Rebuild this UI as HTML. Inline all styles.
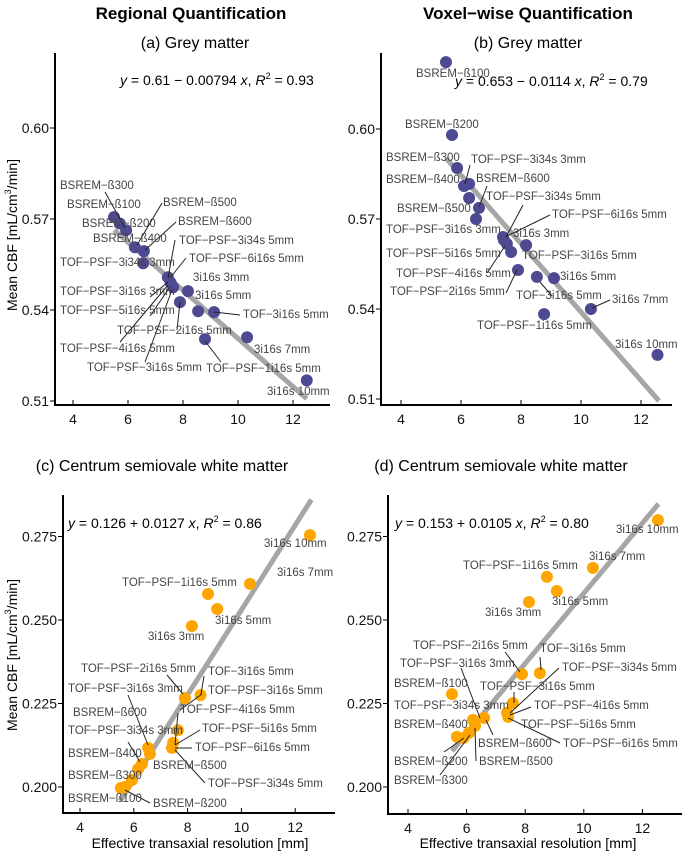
<!DOCTYPE html>
<html><head><meta charset="utf-8"><style>
html,body{margin:0;padding:0;background:#fff;}
svg{display:block;font-family:"Liberation Sans",Arial,sans-serif;}
.lbl{font-size:11.5px;fill:#444;}
.tk{font-size:14px;fill:#111;}
.ld{stroke:#222;stroke-width:1;}
</style></head><body>
<svg id="chart" width="685" height="851" viewBox="0 0 685 851" xmlns="http://www.w3.org/2000/svg">
<text x="191" y="19" text-anchor="middle" font-size="17" font-weight="bold">Regional Quantification</text>
<text x="528" y="19" text-anchor="middle" font-size="17" font-weight="bold">Voxel−wise Quantification</text>
<text x="195" y="48" text-anchor="middle" font-size="16">(a) Grey matter</text>
<text x="528" y="48" text-anchor="middle" font-size="16">(b) Grey matter</text>
<text x="162" y="471" text-anchor="middle" font-size="16">(c) Centrum semiovale white matter</text>
<text x="501" y="471" text-anchor="middle" font-size="16">(d) Centrum semiovale white matter</text>
<text transform="translate(17,235) rotate(-90)" text-anchor="middle" font-size="14">Mean CBF [mL/cm<tspan font-size="9" dy="-6">3</tspan><tspan dy="6">/min]</tspan></text>
<text transform="translate(17,655) rotate(-90)" text-anchor="middle" font-size="14">Mean CBF [mL/cm<tspan font-size="9" dy="-6">3</tspan><tspan dy="6">/min]</tspan></text>
<text x="200" y="848" text-anchor="middle" font-size="14">Effective transaxial resolution [mm]</text>
<text x="528" y="848" text-anchor="middle" font-size="14">Effective transaxial resolution [mm]</text>
<text x="120" y="85" font-size="14"><tspan font-style="italic">y</tspan> = 0.61 − 0.00794 <tspan font-style="italic">x</tspan>, <tspan font-style="italic">R</tspan><tspan font-size="9" dy="-6">2</tspan><tspan dy="6"> = 0.93</tspan></text>
<text x="455" y="86" font-size="14"><tspan font-style="italic">y</tspan> = 0.653 − 0.0114 <tspan font-style="italic">x</tspan>, <tspan font-style="italic">R</tspan><tspan font-size="9" dy="-6">2</tspan><tspan dy="6"> = 0.79</tspan></text>
<text x="68" y="528" font-size="14"><tspan font-style="italic">y</tspan> = 0.126 + 0.0127 <tspan font-style="italic">x</tspan>, <tspan font-style="italic">R</tspan><tspan font-size="9" dy="-6">2</tspan><tspan dy="6"> = 0.86</tspan></text>
<text x="395" y="528" font-size="14"><tspan font-style="italic">y</tspan> = 0.153 + 0.0105 <tspan font-style="italic">x</tspan>, <tspan font-style="italic">R</tspan><tspan font-size="9" dy="-6">2</tspan><tspan dy="6"> = 0.80</tspan></text>
</svg>
<script>
// ---- data ----
const xTicks = [4, 6, 8, 10, 12];
const yTicksTop = [0.51, 0.54, 0.57, 0.60];
const yTicksBottom = [0.200, 0.225, 0.250, 0.275];
const aX = [5.49, 5.70, 5.93, 6.25, 6.58, 6.55, 7.45, 7.55, 7.64, 8.18, 7.89, 8.55, 9.13, 10.33, 8.80, 12.50];
const aY = [0.5706, 0.5685, 0.5663, 0.5607, 0.5594, 0.5554, 0.5508, 0.5490, 0.5475, 0.5462, 0.5426, 0.5396, 0.5393, 0.5310, 0.5304, 0.5168];
const bX = [5.50, 5.70, 5.87, 6.10, 6.27, 6.27, 6.60, 6.50, 7.40, 7.43, 7.53, 7.67, 8.17, 7.90, 8.53, 9.10, 10.33, 8.77, 12.55];
const bY = [0.6223, 0.598, 0.587, 0.581, 0.5817, 0.577, 0.5737, 0.570, 0.564, 0.563, 0.5617, 0.559, 0.5613, 0.553, 0.5507, 0.5503, 0.540, 0.5383, 0.5247];
const cX = [12.55, 10.32, 8.76, 9.10, 8.16, 7.90, 8.48, 7.64, 7.46, 7.42, 6.53, 6.60, 6.30, 6.16, 5.93, 5.67, 5.52];
const cY = [0.2754, 0.2608, 0.2578, 0.2533, 0.2482, 0.2266, 0.2275, 0.2170, 0.2132, 0.2117, 0.2117, 0.2099, 0.2069, 0.2054, 0.2021, 0.2000, 0.1997];
const dX = [12.53, 10.31, 8.74, 9.08, 8.13, 7.89, 8.50, 5.50, 7.58, 7.38, 7.42, 6.60, 6.22, 6.29, 6.08, 5.90, 5.67];
const dY = [0.2799, 0.2656, 0.2629, 0.2587, 0.2554, 0.2338, 0.2341, 0.2278, 0.2251, 0.2222, 0.2210, 0.2207, 0.2201, 0.2183, 0.2162, 0.2147, 0.2150];
const fitIntercept = [0.61, 0.653, 0.126, 0.153];
const fitSlope = [-0.00794, -0.0114, 0.0127, 0.0105];
const fitXStart = [5.5, 5.5, 5.5, 5.5];
const fitXEnd = [12.5, 12.6, 12.6, 12.55];

const NS = "http://www.w3.org/2000/svg";
const svg = document.getElementById('chart');
function mk(tag, attrs, parent) {
  const e = document.createElementNS(NS, tag);
  for (const k in attrs) e.setAttribute(k, attrs[k]);
  (parent || svg).appendChild(e);
  return e;
}
const panels = [
  {ax:55, top:53, bottom:405, right:330, x4:73, xs:27.5, yRef:0.60, yRefPx:128, ys:3033, yt:yTicksTop, fmt:2, xs_:aX, ys_:aY, col:"#4d4a91"},
  {ax:381, top:53, bottom:405, right:672, x4:401, xs:30, yRef:0.60, yRefPx:129, ys:3000, yt:yTicksTop, fmt:2, xs_:bX, ys_:bY, col:"#4d4a91"},
  {ax:63, top:495, bottom:813, right:335, x4:80, xs:26.9, yRef:0.200, yRefPx:787, ys:3340, yt:yTicksBottom, fmt:3, xs_:cX, ys_:cY, col:"#ffa500"},
  {ax:388, top:495, bottom:814, right:682, x4:408, xs:29.3, yRef:0.200, yRefPx:787, ys:3340, yt:yTicksBottom, fmt:3, xs_:dX, ys_:dY, col:"#ffa500"}
];
const names = ['a','b','c','d'];
panels.forEach((p, i) => {
  const X = v => p.x4 + (v - 4) * p.xs;
  const Y = v => p.yRefPx - (v - p.yRef) * p.ys;
  const g = mk('g', {});
  
  
  const ya = mk('line', {x1:p.ax, y1:p.top, x2:p.ax, y2:p.bottom, stroke:'#000', 'stroke-width':2}, g);
  
  
  const xa = mk('line', {x1:p.ax-1, y1:p.bottom, x2:p.right, y2:p.bottom, stroke:'#000', 'stroke-width':2}, g);
  
  
  xTicks.forEach(t => {
    mk('line', {x1:X(t), y1:p.bottom, x2:X(t), y2:p.bottom-5, stroke:'#000', 'stroke-width':1}, g);
    const tx = mk('text', {x:X(t), y:p.bottom+19, 'text-anchor':'middle', class:'tk'}, g);
    tx.textContent = t;
    
    
  });
  p.yt.forEach(t => {
    mk('line', {x1:p.ax-5, y1:Y(t), x2:p.ax, y2:Y(t), stroke:'#000', 'stroke-width':1}, g);
    const tx = mk('text', {x:p.ax-6, y:Y(t)+5, 'text-anchor':'end', class:'tk'}, g);
    tx.textContent = t.toFixed(p.fmt);
    
    
  });
  const fl = mk('line', {x1:X(fitXStart[i]), y1:Y(fitIntercept[i]+fitSlope[i]*fitXStart[i]), x2:X(fitXEnd[i]), y2:Y(fitIntercept[i]+fitSlope[i]*fitXEnd[i]), stroke:'#a6a6a6', 'stroke-width':5}, g);
  
  
  p.xs_.forEach((v, k) => {
    const c = mk('circle', {cx:X(v), cy:Y(p.ys_[k]), r:6, fill:p.col}, g);
    
    
  });
});

// ---- point labels (annotation positions) ----
const labelsText = [
 ["BSREM−ß300",60,189],["BSREM−ß100",67,208],["BSREM−ß200",82,227],["BSREM−ß400",93,242],["BSREM−ß500",163,206],["BSREM−ß600",178,225],
 ["TOF−PSF−3i34s 5mm",179,244],["TOF−PSF−6i16s 5mm",189,262],["TOF−PSF−3i34s 3mm",60,266],["3i16s 3mm",193,281],["TOF−PSF−3i16s 3mm",60,295],
 ["3i16s 5mm",195,299],["TOF−PSF−5i16s 5mm",60,314],["TOF−3i16s 5mm",243,318],["TOF−PSF−2i16s 5mm",117,334],["3i16s 7mm",254,353],
 ["TOF−PSF−4i16s 5mm",60,352],["TOF−PSF−3i16s 5mm",87,371],["TOF−PSF−1i16s 5mm",206,372],["3i16s 10mm",267,395],
 ["BSREM−ß100",416,77],["BSREM−ß200",405,128],["BSREM−ß300",386,161],["TOF−PSF−3i34s 3mm",471,163],["BSREM−ß400",386,183],["BSREM−ß600",476,182],
 ["TOF−PSF−3i34s 5mm",486,200],["BSREM−ß500",397,212],["TOF−PSF−6i16s 5mm",552,218],["TOF−PSF−3i16s 3mm",386,233],["3i16s 3mm",513,237],
 ["TOF−PSF−5i16s 5mm",386,257],["TOF−PSF−3i16s 5mm",522,259],["TOF−PSF−4i16s 5mm",396,277],["3i16s 5mm",560,280],["TOF−PSF−2i16s 5mm",390,295],
 ["TOF−3i16s 5mm",516,299],["3i16s 7mm",612,303],["TOF−PSF−1i16s 5mm",477,329],["3i16s 10mm",615,348],
 ["3i16s 10mm",264,547],["3i16s 7mm",277,576],["TOF−PSF−1i16s 5mm",122,586],["3i16s 5mm",215,624],["3i16s 3mm",148,640],["TOF−PSF−2i16s 5mm",81,672],
 ["TOF−3i16s 5mm",208,675],["TOF−PSF−3i16s 3mm",68,692],["TOF−PSF−3i16s 5mm",208,694],["BSREM−ß600",73,716],["TOF−PSF−4i16s 5mm",180,713],
 ["TOF−PSF−3i34s 3mm",68,734],["TOF−PSF−5i16s 5mm",202,732],["BSREM−ß400",68,757],["TOF−PSF−6i16s 5mm",195,751],["BSREM−ß500",153,769],
 ["BSREM−ß300",68,779],["TOF−PSF−3i34s 5mm",208,787],["BSREM−ß100",68,802],["BSREM−ß200",153,807],
 ["3i16s 10mm",616,533],["3i16s 7mm",589,560],["TOF−PSF−1i16s 5mm",463,569],["3i16s 5mm",552,605],["3i16s 3mm",485,616],["TOF−PSF−2i16s 5mm",413,649],
 ["TOF−3i16s 5mm",540,652],["TOF−PSF−3i16s 3mm",400,667],["TOF−PSF−3i34s 5mm",562,671],["BSREM−ß100",394,687],["TOF−PSF−3i16s 5mm",480,690],
 ["TOF−PSF−3i34s 3mm",394,709],["TOF−PSF−4i16s 5mm",534,709],["BSREM−ß400",394,728],["TOF−PSF−5i16s 5mm",521,728],["BSREM−ß600",478,747],
 ["TOF−PSF−6i16s 5mm",563,747],["BSREM−ß200",394,765],["BSREM−ß500",479,765],["BSREM−ß300",394,784]
];
const leaders = [
 [105,192,125,228],[162,203,137,245],[176,222,145,250],[175,240,168,278],[186,258,170,278],[240,315,214,312],[177,330,180,302],
 [150,297,168,282],[150,316,170,287],[120,342,168,285],[145,362,172,290],[221,362,205,341],
 [470,165,465,184],[487,186,479,207],[523,205,506,237],[550,215,507,236],[487,273,505,246],[506,293,517,270],[540,282,552,296],[610,300,592,308],
 [167,675,183,694],[204,676,201,694],[128,695,148,745],[178,713,175,745],[180,710,202,694],[200,730,175,745],[192,748,175,748],[205,783,175,750],[150,803,125,790],[128,742,140,762],
 [505,652,520,672],[540,657,541,670],[461,668,480,718],[559,668,510,713],[514,692,514,703],[531,707,510,715],[493,735,486,720],[560,743,508,718],[444,752,464,738],[476,761,475,728],[440,775,470,735]
];
leaders.forEach(l => {
  const ln = mk('line', {x1:l[0], y1:l[1], x2:l[2], y2:l[3], class:'ld'});
  
  
});
labelsText.forEach(l => {
  const t = mk('text', {x:l[1], y:l[2], class:'lbl'});
  t.textContent = l[0];
  
  
});
</script>
</body></html>
